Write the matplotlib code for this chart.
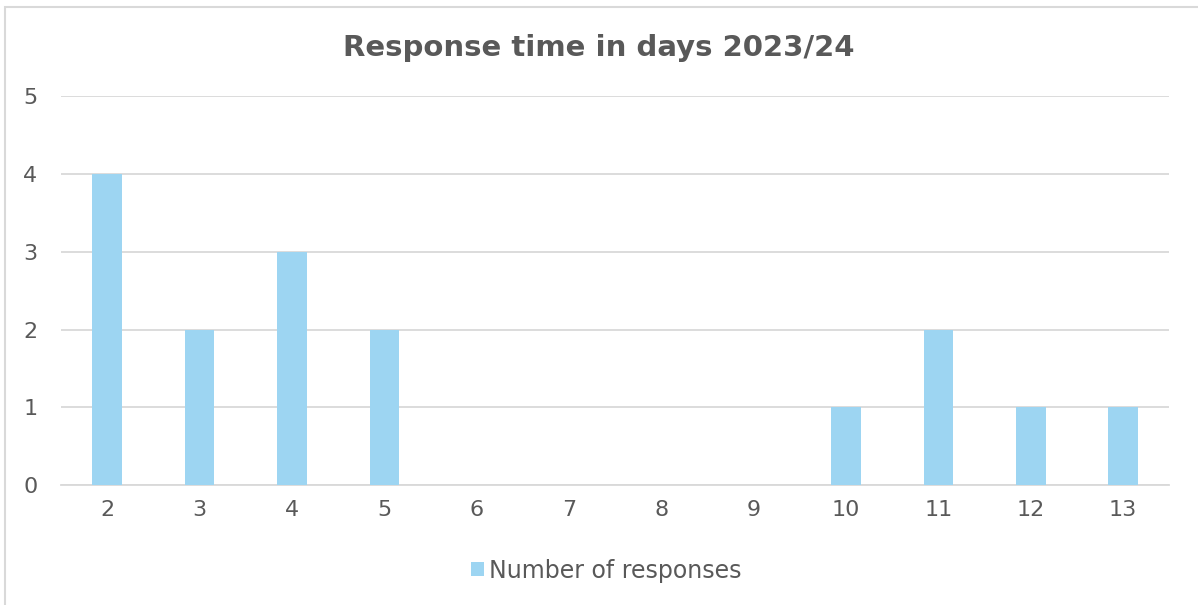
import matplotlib.pyplot as plt
from matplotlib.patches import Rectangle
import numpy as np

days = ["2", "3", "4", "5", "6", "7", "8", "9", "10", "11", "12", "13"]
responses = [4, 2, 3, 2, 0, 0, 0, 0, 1, 2, 1, 1]

grey = "#595959"
bar_col = "#9DD5F2"

fig = plt.figure(figsize=(11.98, 6.05), dpi=100)
ax = fig.add_axes([0.051, 0.198, 0.925, 0.643])

x = np.arange(len(days))
ax.bar(x, responses, width=0.32, color=bar_col, label="Number of responses", zorder=3)

ax.set_xlim(-0.5, len(days) - 0.5)
ax.set_ylim(0, 5)
ax.set_xticks(x)
ax.set_xticklabels(days)
ax.set_yticks(range(6))
ax.grid(axis="y", color="#D9D9D9", linewidth=1.3, zorder=0)
for s in ["top", "right", "left"]:
    ax.spines[s].set_visible(False)
ax.spines["bottom"].set_color("#D9D9D9")
ax.spines["bottom"].set_linewidth(1.3)
ax.tick_params(length=0, labelsize=16, labelcolor=grey, pad=11)
ax.tick_params(axis="y", pad=17)

fig.text(0.5, 0.92, "Response time in days 2023/24", ha="center", va="center",
         fontsize=21, fontweight="bold", color=grey)

leg = fig.legend(loc="center", bbox_to_anchor=(0.506, 0.057), frameon=False,
                 fontsize=17, handlelength=0.55, handleheight=0.55, handletextpad=0.2)
for t in leg.get_texts():
    t.set_color(grey)

fig.patches.append(Rectangle((0.004, -0.1), 1.2, 1.088, transform=fig.transFigure,
                             fill=False, edgecolor="#D9D9D9", linewidth=1.5))

fig.savefig("out.png", dpi=100)
